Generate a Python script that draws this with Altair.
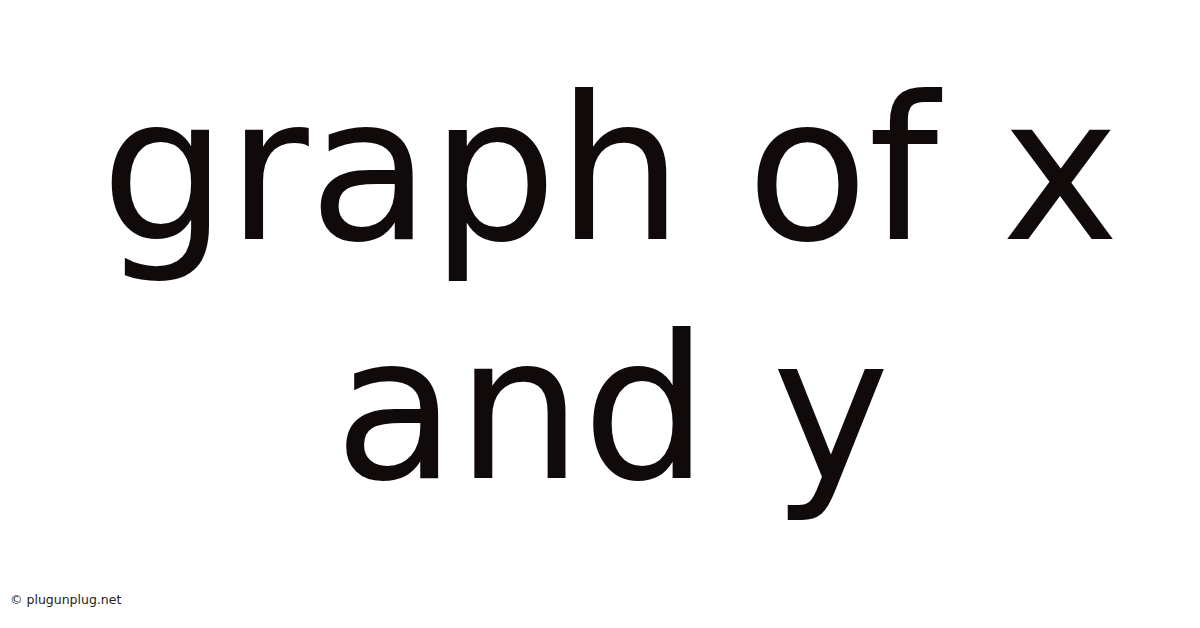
import altair as alt
import pandas as pd

# Text content of the image
title_lines = ["graph of x", "and y"]
watermark = ["© plugunplug.net"]

ink = "#100a0b"

title_df = pd.DataFrame({"text": title_lines, "line": [0, 1]})
wm_df = pd.DataFrame({"text": watermark})

W, H = 1184, 612

line1 = alt.Chart(title_df).transform_filter(alt.datum.line == 0).mark_text(
    font="DejaVu Sans", fontSize=199, color=ink, align="center", baseline="alphabetic"
).encode(text="text:N", x=alt.value(602), y=alt.value(231))

line2 = alt.Chart(title_df).transform_filter(alt.datum.line == 1).mark_text(
    font="DejaVu Sans", fontSize=199, color=ink, align="center", baseline="alphabetic"
).encode(text="text:N", x=alt.value(604), y=alt.value(470))

wm = alt.Chart(wm_df).mark_text(
    font="DejaVu Sans", fontSize=12.5, color="#222222", align="left", baseline="alphabetic"
).encode(text="text:N", x=alt.value(2), y=alt.value(596))

chart = alt.layer(line1, line2, wm).properties(
    width=W, height=H, padding=0, autosize=alt.AutoSizeParams(type="none"),
    background="white"
).configure_view(stroke=None)

chart.save("out.html", embed_options={"renderer": "svg", "actions": False})
